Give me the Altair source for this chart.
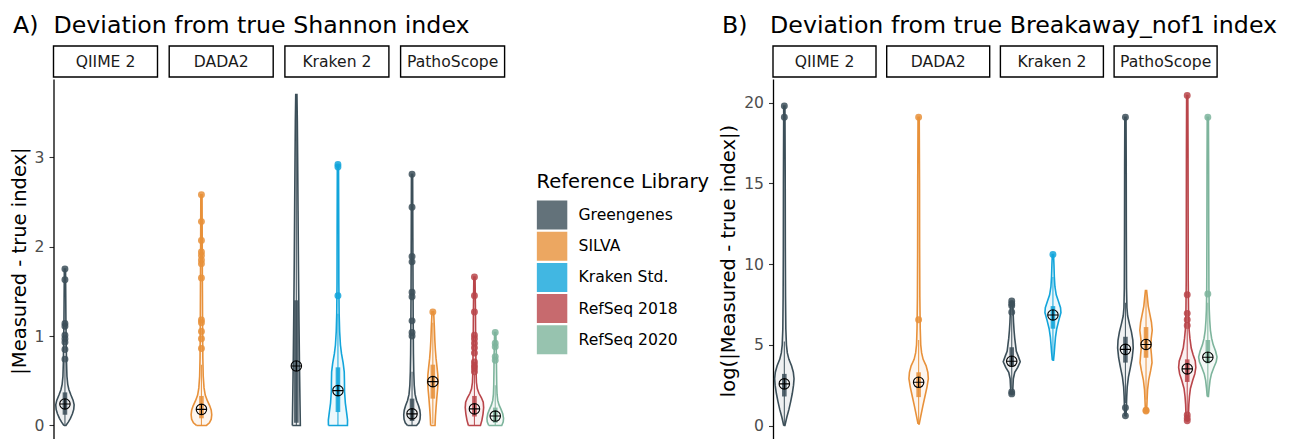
import altair as alt
import pandas as pd

TOOLS = ["QIIME 2", "DADA2", "Kraken 2", "PathoScope"]
LIBRARIES = ["Greengenes", "SILVA", "Kraken Std.", "RefSeq 2018", "RefSeq 2020"]
COLORS = ["#3C4F59", "#E8913A", "#12A5DB", "#B9454A", "#7DB49C"]

# ---------- Panel A: |Measured - true index| (Shannon) ----------
# violin outlines: (value, half-width of the density)
A_QIIME_GG_VIOLIN = [(0.00, 1.0), (0.04, 3.5), (0.08, 5.5), (0.13, 7.5), (0.18, 8.8), (0.23, 9.2), (0.28, 8.2),
                     (0.34, 6.0), (0.40, 4.0), (0.46, 2.8), (0.55, 2.0), (0.70, 1.6), (0.90, 1.3), (1.15, 1.0),
                     (1.45, 0.8), (1.75, 0.6)]
A_DADA2_SILVA_VIOLIN = [(0.00, 5.0), (0.03, 8.0), (0.07, 9.8), (0.12, 10.3), (0.17, 9.8), (0.22, 8.3), (0.28, 5.8),
                        (0.34, 3.8), (0.42, 2.6), (0.55, 1.8), (0.75, 1.4), (1.00, 1.2), (1.50, 1.0), (2.00, 0.8),
                        (2.58, 0.6)]
A_KRAKEN_GG_VIOLIN = [(0.00, 4.0), (0.30, 3.6), (0.70, 3.1), (1.20, 2.6), (1.80, 2.1), (2.40, 1.7), (3.00, 1.3),
                      (3.40, 1.0), (3.70, 0.6)]
A_KRAKEN_STD_VIOLIN = [(0.00, 9.5), (0.06, 9.6), (0.15, 8.6), (0.25, 7.4), (0.38, 6.6), (0.50, 6.5), (0.60, 6.3),
                       (0.70, 5.2), (0.80, 3.6), (0.90, 2.5), (1.05, 1.7), (1.25, 1.2), (1.60, 0.9), (2.20, 0.8),
                       (2.91, 0.6)]
A_PATHO_GG_VIOLIN = [(0.00, 4.5), (0.03, 6.8), (0.07, 8.0), (0.12, 8.3), (0.17, 7.8), (0.22, 6.5), (0.28, 4.5),
                     (0.35, 3.0), (0.45, 2.2), (0.60, 1.7), (0.80, 1.4), (1.10, 1.2), (1.50, 1.0), (2.10, 0.8),
                     (2.81, 0.6)]
A_PATHO_SILVA_VIOLIN = [(0.00, 2.2), (0.10, 2.6), (0.20, 3.2), (0.30, 3.9), (0.40, 4.7), (0.48, 5.2), (0.56, 5.0),
                        (0.65, 4.2), (0.75, 3.2), (0.85, 2.5), (0.95, 2.0), (1.10, 1.5), (1.27, 0.8)]
A_PATHO_RS18_VIOLIN = [(0.00, 6.0), (0.06, 7.5), (0.13, 8.6), (0.20, 9.2), (0.26, 8.8), (0.31, 7.0), (0.36, 4.5),
                       (0.41, 2.9), (0.48, 2.0), (0.60, 1.6), (0.80, 1.4), (1.00, 1.2), (1.30, 1.0), (1.66, 0.6)]
A_PATHO_RS20_VIOLIN = [(0.00, 6.5), (0.04, 8.0), (0.08, 8.3), (0.13, 7.5), (0.18, 5.8), (0.23, 3.8), (0.28, 2.5),
                       (0.35, 1.8), (0.45, 1.5), (0.60, 1.3), (0.80, 1.1), (1.04, 0.6)]

# box statistics: tool, library, lower whisker, q1, median, q3, upper whisker, mean
A_STATS = [
    ("QIIME 2", "Greengenes", 0.00, 0.12, 0.20, 0.37, 0.70, 0.24),
    ("DADA2", "SILVA", 0.00, 0.08, 0.15, 0.33, 0.68, 0.18),
    ("Kraken 2", "Greengenes", 0.00, 0.03, 0.30, 1.40, 3.70, 0.665),
    ("Kraken 2", "Kraken Std.", 0.00, 0.15, 0.30, 0.65, 1.25, 0.39),
    ("PathoScope", "Greengenes", 0.00, 0.05, 0.10, 0.30, 0.60, 0.13),
    ("PathoScope", "SILVA", 0.02, 0.30, 0.47, 0.68, 1.15, 0.49),
    ("PathoScope", "RefSeq 2018", 0.00, 0.10, 0.17, 0.33, 0.57, 0.185),
    ("PathoScope", "RefSeq 2020", 0.00, 0.03, 0.08, 0.20, 0.45, 0.105),
]
A_QIIME_GG_OUT = [1.75, 1.63, 1.14, 1.11, 1.01, 0.97, 0.93, 0.85, 0.74]
A_DADA2_SILVA_OUT = [2.58, 2.28, 2.07, 1.94, 1.90, 1.85, 1.81, 1.65, 1.18, 1.15, 1.05, 0.97, 0.86]
A_KRAKEN_GG_OUT = []
A_KRAKEN_STD_OUT = [2.92, 2.89, 1.45]
A_PATHO_GG_OUT = [2.81, 2.44, 1.89, 1.83, 1.49, 1.44, 1.17, 1.04, 1.00]
A_PATHO_SILVA_OUT = [1.27]
A_PATHO_RS18_OUT = [1.66, 1.45, 1.27, 1.01, 0.97, 0.92, 0.87, 0.81, 0.71, 0.67, 0.64, 0.60]
A_PATHO_RS20_OUT = [1.04, 0.92, 0.88, 0.77, 0.73]

# ---------- Panel B: log(|Measured - true index|) (Breakaway_nof1) ----------
B_QIIME_GG_VIOLIN = [(0.0, 0.6), (0.5, 2.4), (1.0, 4.6), (1.5, 6.4), (2.0, 8.0), (2.5, 9.2), (2.9, 9.7), (3.3, 9.0),
                     (3.7, 7.2), (4.1, 4.6), (4.5, 3.0), (5.0, 2.1), (6.0, 1.5), (8.0, 1.2), (11.0, 1.0),
                     (15.0, 0.9), (19.8, 0.6)]
B_DADA2_SILVA_VIOLIN = [(0.1, 0.6), (0.6, 2.2), (1.2, 4.2), (1.8, 6.3), (2.4, 8.4), (2.9, 9.7), (3.3, 9.2),
                        (3.7, 7.5), (4.1, 4.5), (4.5, 3.0), (5.0, 2.1), (6.0, 1.6), (8.0, 1.2), (11.0, 1.0),
                        (15.0, 0.9), (19.1, 0.6)]
B_KRAKEN_GG_VIOLIN = [(1.95, 0.8), (2.4, 1.2), (2.9, 1.6), (3.3, 3.0), (3.6, 6.0), (3.95, 8.5), (4.3, 6.5),
                      (4.6, 4.6), (5.0, 3.8), (5.4, 3.0), (5.9, 2.3), (6.4, 1.8), (7.0, 1.4), (7.7, 0.6)]
B_KRAKEN_STD_VIOLIN = [(4.05, 0.6), (4.5, 1.3), (5.0, 1.9), (5.5, 2.6), (6.0, 3.8), (6.5, 5.8), (7.0, 8.0),
                       (7.3, 7.6), (7.7, 5.5), (8.1, 3.3), (8.6, 2.0), (9.2, 1.4), (10.0, 1.0), (10.6, 0.6)]
B_PATHO_GG_VIOLIN = [(0.6, 0.6), (1.2, 1.0), (1.8, 1.3), (2.4, 1.8), (3.0, 3.0), (3.6, 5.0), (4.2, 6.8),
                     (4.8, 7.8), (5.3, 7.4), (5.8, 6.0), (6.3, 4.0), (6.8, 2.2), (7.3, 1.5), (8.5, 1.1),
                     (12.0, 0.9), (16.0, 0.8), (19.1, 0.6)]
B_PATHO_SILVA_VIOLIN = [(0.9, 0.6), (1.5, 1.0), (2.2, 1.5), (2.8, 2.6), (3.4, 4.6), (3.9, 6.0), (4.4, 5.4),
                        (4.9, 4.6), (5.4, 5.2), (5.9, 6.2), (6.4, 5.4), (6.9, 3.8), (7.4, 2.2), (7.9, 1.4),
                        (8.36, 0.6)]
B_PATHO_RS18_VIOLIN = [(0.28, 0.6), (0.8, 1.3), (1.3, 1.6), (1.8, 2.2), (2.3, 3.2), (2.8, 5.5), (3.2, 7.6),
                       (3.6, 8.6), (4.0, 8.0), (4.4, 5.8), (4.8, 4.0), (5.4, 2.7), (6.0, 1.8), (7.0, 1.3),
                       (9.0, 1.0), (13.0, 0.9), (17.0, 0.8), (20.45, 0.6)]
B_PATHO_RS20_VIOLIN = [(1.8, 0.6), (2.3, 1.3), (2.8, 2.2), (3.2, 3.6), (3.6, 6.0), (3.95, 8.4), (4.25, 9.2),
                       (4.6, 7.8), (5.0, 5.4), (5.4, 3.8), (5.9, 2.6), (6.5, 1.9), (7.2, 1.4), (8.5, 1.1),
                       (12.0, 0.9), (16.0, 0.8), (19.1, 0.6)]

B_STATS = [
    ("QIIME 2", "Greengenes", 0.0, 1.80, 2.50, 3.20, 5.2, 2.58),
    ("DADA2", "SILVA", 0.1, 1.76, 2.60, 3.30, 5.3, 2.68),
    ("Kraken 2", "Greengenes", 2.3, 3.70, 3.95, 4.85, 6.8, 3.98),
    ("Kraken 2", "Kraken Std.", 4.05, 6.00, 6.80, 7.40, 9.2, 6.85),
    ("PathoScope", "Greengenes", 1.4, 3.90, 4.70, 5.50, 7.6, 4.72),
    ("PathoScope", "SILVA", 1.6, 4.20, 5.00, 6.10, 8.36, 5.02),
    ("PathoScope", "RefSeq 2018", 0.8, 2.70, 3.50, 4.10, 6.0, 3.51),
    ("PathoScope", "RefSeq 2020", 1.8, 3.85, 4.30, 5.30, 7.6, 4.23),
]
B_QIIME_GG_OUT = [19.8, 19.1]
B_DADA2_SILVA_OUT = [19.1, 6.55]
B_KRAKEN_GG_OUT = [7.72, 7.55, 7.42, 7.02, 2.08, 1.96]
B_KRAKEN_STD_OUT = [10.6]
B_PATHO_GG_OUT = [19.1, 1.1, 0.6]
B_PATHO_SILVA_OUT = [0.95, 0.9]
B_PATHO_RS18_OUT = [20.45, 8.1, 6.95, 6.55, 6.2, 0.65, 0.45, 0.3]
B_PATHO_RS20_OUT = [19.1, 8.15]

A_GROUPS = [
    ("QIIME 2", "Greengenes", A_QIIME_GG_VIOLIN, A_QIIME_GG_OUT),
    ("DADA2", "SILVA", A_DADA2_SILVA_VIOLIN, A_DADA2_SILVA_OUT),
    ("Kraken 2", "Greengenes", A_KRAKEN_GG_VIOLIN, A_KRAKEN_GG_OUT),
    ("Kraken 2", "Kraken Std.", A_KRAKEN_STD_VIOLIN, A_KRAKEN_STD_OUT),
    ("PathoScope", "Greengenes", A_PATHO_GG_VIOLIN, A_PATHO_GG_OUT),
    ("PathoScope", "SILVA", A_PATHO_SILVA_VIOLIN, A_PATHO_SILVA_OUT),
    ("PathoScope", "RefSeq 2018", A_PATHO_RS18_VIOLIN, A_PATHO_RS18_OUT),
    ("PathoScope", "RefSeq 2020", A_PATHO_RS20_VIOLIN, A_PATHO_RS20_OUT),
]
B_GROUPS = [
    ("QIIME 2", "Greengenes", B_QIIME_GG_VIOLIN, B_QIIME_GG_OUT),
    ("DADA2", "SILVA", B_DADA2_SILVA_VIOLIN, B_DADA2_SILVA_OUT),
    ("Kraken 2", "Greengenes", B_KRAKEN_GG_VIOLIN, B_KRAKEN_GG_OUT),
    ("Kraken 2", "Kraken Std.", B_KRAKEN_STD_VIOLIN, B_KRAKEN_STD_OUT),
    ("PathoScope", "Greengenes", B_PATHO_GG_VIOLIN, B_PATHO_GG_OUT),
    ("PathoScope", "SILVA", B_PATHO_SILVA_VIOLIN, B_PATHO_SILVA_OUT),
    ("PathoScope", "RefSeq 2018", B_PATHO_RS18_VIOLIN, B_PATHO_RS18_OUT),
    ("PathoScope", "RefSeq 2020", B_PATHO_RS20_VIOLIN, B_PATHO_RS20_OUT),
]

COLOR_SCALE = alt.Scale(domain=LIBRARIES, range=COLORS)
LEGEND = alt.Legend(title="Reference Library", symbolType="square", symbolSize=841, symbolStrokeWidth=1.6,
                    orient="none", legendX=483, legendY=94, titleFontSize=19.5, titleFontWeight="normal",
                    titleColor="black", labelFontSize=15.6, labelColor="black", rowPadding=2.2,
                    clipHeight=29, labelOffset=11, titlePadding=8, symbolOpacity=0.8)
MEAN_SHAPE = "M-1,0A1,1,0,1,1,1,0A1,1,0,1,1,-1,0ZM-1,0L1,0M0,-1L0,1"


def panel(groups, stats, facet_px, gap_px, height, ydomain, yvalues, ytitle, title, tag_dx):
    unit = facet_px / 5.0                 # pixels per library slot
    pitch = 5.0 + gap_px / unit           # slots per tool incl. gap
    x_lo, x_hi = -0.55, 3 * pitch + 4.45
    width = (x_hi - x_lo) * unit

    def xpos(tool, lib):
        return TOOLS.index(tool) * pitch + LIBRARIES.index(lib)

    vrows, orows, brows, mrows = [], [], [], []
    for tool, lib, violin, outs in groups:
        c = xpos(tool, lib)
        gid = f"{tool}|{lib}"
        seq = 0
        for y, w in violin:
            vrows.append(dict(gid=gid, lib=lib, seq=seq, y=y, x=c - w / unit)); seq += 1
        for y, w in reversed(violin):
            vrows.append(dict(gid=gid, lib=lib, seq=seq, y=y, x=c + w / unit)); seq += 1
        y0, w0 = violin[0]
        vrows.append(dict(gid=gid, lib=lib, seq=seq, y=y0, x=c - w0 / unit))
        for y in outs:
            orows.append(dict(lib=lib, x=c, y=y))
    for tool, lib, lo, q1, med, q3, hi, mean in stats:
        c = xpos(tool, lib)
        brows.append(dict(lib=lib, x=c, xb1=c - 2.3 / unit, xb2=c + 2.3 / unit, lo=lo, q1=q1, q3=q3, hi=hi))
        mrows.append(dict(lib=lib, x=c, y=mean))
    srows = [dict(tool=t, x0=i * pitch + x_lo, x1=i * pitch + x_lo + 5, xc=i * pitch + x_lo + 2.5)
             for i, t in enumerate(TOOLS)]

    xs = alt.Scale(domain=[x_lo, x_hi], nice=False, zero=False)
    ys = alt.Scale(domain=ydomain, nice=False, zero=False)
    yaxis = alt.Axis(values=yvalues, format="d", title=ytitle, grid=False, tickSize=4.5, tickColor="#333333",
                     tickWidth=1.1, labelColor="#4D4D4D", labelFontSize=15.6, labelPadding=5,
                     titleFontSize=19.5, titleFontWeight="normal", titleColor="black", titlePadding=5,
                     domainColor="black", domainWidth=1.3)
    color = alt.Color("lib:N", scale=COLOR_SCALE, legend=LEGEND)
    X = lambda f: alt.X(f, scale=xs, axis=None)

    box = alt.Chart(pd.DataFrame(brows)).mark_rect(opacity=0.85).encode(
        x=X("xb1:Q"), x2="xb2:Q", y=alt.Y("q1:Q", scale=ys, axis=yaxis), y2="q3:Q", color=color)
    violin = alt.Chart(pd.DataFrame(vrows)).mark_line(strokeWidth=1.6, fillOpacity=0.08).encode(
        x=X("x:Q"), y=alt.Y("y:Q", scale=ys), color=color,
        fill=alt.Fill("lib:N", scale=COLOR_SCALE, legend=None),
        detail="gid:N", order=alt.Order("seq:Q"))
    whisk = alt.Chart(pd.DataFrame(brows)).mark_rule(strokeWidth=1.1, opacity=0.9).encode(
        x=X("x:Q"), y=alt.Y("lo:Q", scale=ys), y2="hi:Q", color=color)
    outs = alt.Chart(pd.DataFrame(orows)).mark_circle(size=48, opacity=0.85).encode(
        x=X("x:Q"), y=alt.Y("y:Q", scale=ys), color=color)
    means = alt.Chart(pd.DataFrame(mrows)).mark_point(
        shape=MEAN_SHAPE, size=110, filled=False, color="black", strokeWidth=1.1, opacity=1).encode(
        x=X("x:Q"), y=alt.Y("y:Q", scale=ys))
    strip_box = alt.Chart(pd.DataFrame(srows)).mark_rect(
        filled=False, stroke="black", strokeWidth=1.4).encode(
        x=X("x0:Q"), x2="x1:Q", y=alt.value(-33), y2=alt.value(-2))
    strip_txt = alt.Chart(pd.DataFrame(srows)).mark_text(
        fontSize=15.6, baseline="middle", align="center", color="#1A1A1A").encode(
        x=X("xc:Q"), y=alt.value(-17.5), text="tool:N")

    return alt.layer(box, violin, whisk, outs, means, strip_box, strip_txt).properties(
        width=width, height=height,
        title=alt.TitleParams(title, anchor="start", frame="group", fontSize=23.7, fontWeight="normal",
                              color="black", dx=tag_dx, offset=-11, baseline="alphabetic"))


chart_a = panel(A_GROUPS, A_STATS, 104, 11.7, 363, [-0.185, 3.875], [0, 1, 2, 3],
                "|Measured - true index|", "A)\u00a0\u00a0Deviation from true Shannon index", -40.5)
chart_b = panel(B_GROUPS, B_STATS, 103, 10.7, 363, [-1.02, 21.47], [0, 5, 10, 15, 20],
                "log(|Measured - true index|)", "B)\u00a0\u00a0\u00a0Deviation from true Breakaway_nof1 index", -51)

chart = alt.hconcat(chart_a, chart_b, spacing=210.5).resolve_scale(
    x="independent", y="independent").configure(font="DejaVu Sans").configure_view(stroke=None).properties(
    padding={"left": 0.5, "top": 5, "right": 0, "bottom": 0})

chart.save("out.html", embed_options={"renderer": "svg", "actions": False})
